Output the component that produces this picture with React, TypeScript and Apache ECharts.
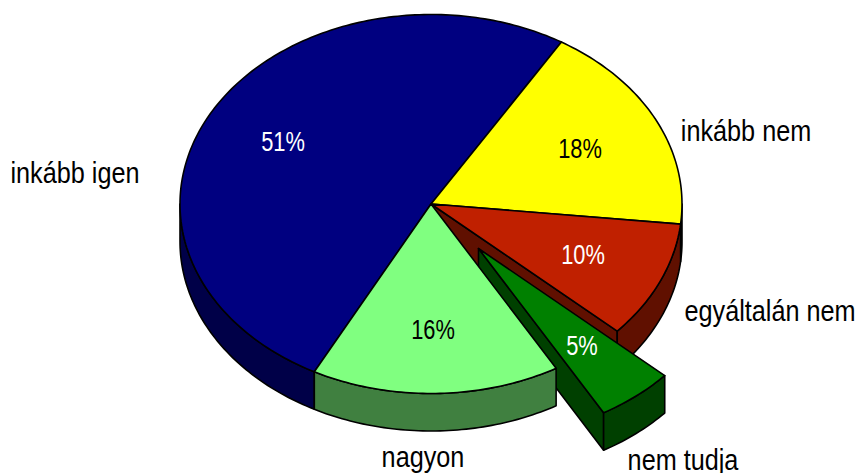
import React, { useEffect, useRef } from "react";
import * as echarts from "echarts";

const categories = ["inkább igen", "inkább nem", "egyáltalán nem", "nem tudja", "nagyon"];
const values = [51, 18, 10, 5, 16];

const topColors = ["#000080", "#FFFF00", "#C02000", "#008000", "#80FF80"];
const wallColors = ["#000048", "#808000", "#601000", "#004000", "#408040"];
const percentColors = ["#FFFFFF", "#000000", "#FFFFFF", "#FFFFFF", "#000000"];
const explodeOffsets = [[0, 0], [0, 0], [0, 0], [47.5, 44.5], [0, 0]];
const percentCenters = [[283, 142], [580, 149], [583, 255], [582, 346], [433, 330]];
const nameCenters = [[75, 173], [746, 131], [770, 311], [683, 460], [423, 457]];

const CX = 431, CY = 204, RX = 251, RY = 189.5, DEPTH = 37.5, START = 207.7;
const FONT = "'Liberation Sans', Arial, sans-serif";
const total = values.reduce((a, b) => a + b, 0);

function pt(deg: number, ox: number, oy: number, dy = 0): number[] {
  const r = (deg * Math.PI) / 180;
  return [CX + ox + RX * Math.sin(r), CY + oy + dy - RY * Math.cos(r)];
}
function arc(a: number, b: number, ox: number, oy: number, dy = 0): number[][] {
  const n = Math.max(2, Math.ceil(Math.abs(b - a)));
  const out: number[][] = [];
  for (let i = 0; i <= n; i++) out.push(pt(a + ((b - a) * i) / n, ox, oy, dy));
  return out;
}
const edge = { stroke: "#000", lineWidth: 1.6, lineJoin: "round" };

function poly(points: number[][], fill: string) {
  return { type: "polygon", shape: { points }, style: { fill, ...edge } };
}
function txt(text: string, c: number[], fill: string, size: number, sx: number) {
  return {
    type: "text",
    x: c[0],
    y: c[1],
    scaleX: sx,
    style: { text, x: 0, y: 0, fill, fontFamily: FONT, fontSize: size, align: "center", verticalAlign: "middle" },
  };
}

function renderItem(params: any, api: any) {
  const i = params.dataIndex;
  const before = values.slice(0, i).reduce((a, b) => a + b, 0);
  const a = START + (before / total) * 360;
  const b = a + (api.value(0) / total) * 360;
  const [ox, oy] = explodeOffsets[i];
  const next = (i + 1) % values.length;
  const cutEnd = explodeOffsets[i][0] !== 0 || explodeOffsets[next][0] !== 0;
  const children: any[] = [];

  // radial cut face, visible only beside the pulled-out slice
  if (cutEnd) {
    const c0 = [CX + ox, CY + oy];
    const e = pt(b, ox, oy);
    children.push(poly([c0, e, [e[0], e[1] + DEPTH], [c0[0], c0[1] + DEPTH]], wallColors[i]));
  }
  // outer wall, front half of the ellipse only
  for (const [lo, hi] of [[90, 270], [450, 630]]) {
    const s = Math.max(a, lo), t = Math.min(b, hi);
    if (t > s) {
      children.push(poly([...arc(s, t, ox, oy), ...arc(t, s, ox, oy, DEPTH)], wallColors[i]));
    }
  }
  // top face
  children.push(poly([[CX + ox, CY + oy], ...arc(a, b, ox, oy)], topColors[i]));
  children.push(txt(values[i] + "%", percentCenters[i], percentColors[i], 27, 0.81));
  children.push(txt(categories[i], nameCenters[i], "#000000", 29, 0.87));
  return { type: "group", children };
}

export default function App() {
  const ref = useRef<HTMLDivElement>(null);
  useEffect(() => {
    const chart = echarts.init(ref.current!, undefined, { renderer: "svg" });
    chart.setOption({
      animation: false,
      backgroundColor: "#FFFFFF",
      series: [
        {
          type: "custom",
          coordinateSystem: "none",
          renderItem,
          clip: false,
          data: values.map((v, i) => ({ name: categories[i], value: [v] })),
        },
      ],
    });
    return () => chart.dispose();
  }, []);
  return <div ref={ref} style={{ position: "fixed", left: 0, top: 0, width: 858, height: 473 }} />;
}
